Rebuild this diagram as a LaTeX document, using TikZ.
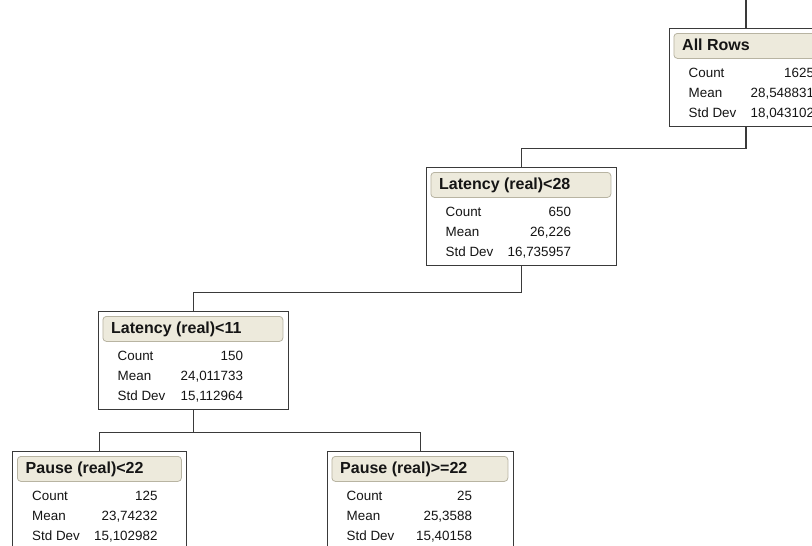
\documentclass[tikz,border=0pt]{standalone}
\usepackage{fontspec}
\setmainfont{Liberation Sans}
\definecolor{boxc}{HTML}{3A3A3A}
\definecolor{barfill}{HTML}{EDEADC}
\definecolor{barline}{HTML}{B8B4A2}
\definecolor{txt}{HTML}{151515}
\tikzset{
  tbx/.style={draw=boxc, line width=1.2pt, fill=white, minimum height=98pt, inner sep=0pt},
  tbar/.style={draw=barline, line width=0.8pt, fill=barfill, rounded corners=3.5pt, minimum height=25pt, inner sep=0pt},
  ttl/.style={font=\fontsize{16}{18}\selectfont\bfseries, text=txt, inner sep=0pt},
  lbl/.style={font=\fontsize{13.4}{15}\selectfont, text=txt, inner sep=0pt},
  conn/.style={draw=boxc, line width=1.2pt}
}
\newcommand\treebox[8]{%
  \begin{scope}[shift={(#2,#3)}]
    \node[tbx, minimum width=#4pt, anchor=north west] (#1) at (0,0) {};
    \node[tbar, minimum width=#4pt-10pt, anchor=north west] (#1bar) at (5,5) {};
    \node[ttl, anchor=base west] (#1ttl) at (13.5,22.7) {#5};
    \node[lbl, anchor=base west] (#1lc) at (20,49.3) {Count};
    \node[lbl, anchor=base east] (#1vc) at (145.7,49.3) {#6};
    \node[lbl, anchor=base west] (#1lm) at (20,69) {Mean};
    \node[lbl, anchor=base east] (#1vm) at (145.7,69) {#7};
    \node[lbl, anchor=base west] (#1ls) at (20,89) {Std Dev};
    \node[lbl, anchor=base east] (#1vs) at (145.7,89) {#8};
  \end{scope}}
\begin{document}
\begin{tikzpicture}[x=1pt,y=-1pt]
\useasboundingbox (0,0) rectangle (812,546);
\clip (0,0) rectangle (812,546);
\treebox{ar}{668.5}{28}{190}{All Rows}{1625}{28,548831}{18,043102}
\treebox{lA}{425.5}{167}{190}{Latency (real)<28}{650}{26,226}{16,735957}
\treebox{lB}{97.5}{311}{190}{Latency (real)<11}{150}{24,011733}{15,112964}
\treebox{pA}{12}{451}{174}{Pause (real)<22}{125}{23,74232}{15,102982}
\treebox{pB}{326.5}{451}{186}{Pause (real)>=22}{25}{25,3588}{15,40158}
\coordinate (top) at (746,0);
\draw[conn] (top) -- (top |- ar.north);
\draw[conn] (top |- ar.south) -- ++(0,21) -| (lA.north);
\draw[conn] (lA.south) -- ++(0,26) -| (lB.north);
\draw[conn] (lB.south) -- ++(0,22) -| (pA.north);
\draw[conn] (lB.south) -- ++(0,22) -| (pB.north);
\end{tikzpicture}
\end{document}
